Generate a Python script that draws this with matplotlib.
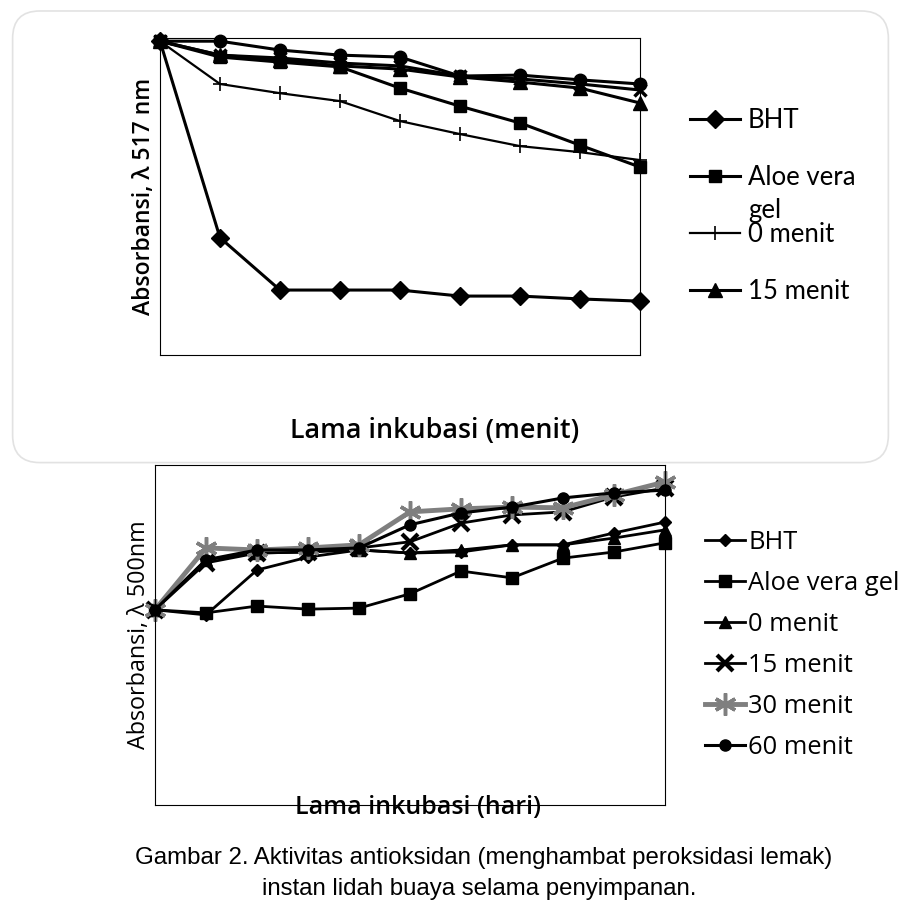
import matplotlib.pyplot as plt
from matplotlib.patches import FancyBboxPatch

# top chart: absorbance at 517 nm vs incubation time (minutes), no tick labels in source
top_x = [0, 1, 2, 3, 4, 5, 6, 7, 8]
top_bht = [0.99, 0.37, 0.205, 0.205, 0.205, 0.186, 0.186, 0.177, 0.170]
top_aloe = [0.99, 0.94, 0.924, 0.909, 0.842, 0.785, 0.732, 0.662, 0.593]
top_m0 = [0.99, 0.855, 0.826, 0.801, 0.738, 0.697, 0.659, 0.640, 0.615]
top_m15 = [0.99, 0.946, 0.931, 0.912, 0.902, 0.877, 0.861, 0.842, 0.795]
top_m30 = [0.99, 0.946, 0.937, 0.921, 0.912, 0.880, 0.871, 0.855, 0.836]
top_m60 = [0.99, 0.99, 0.962, 0.946, 0.940, 0.880, 0.883, 0.868, 0.855]

# bottom chart: absorbance at 500 nm vs incubation time (days)
bot_x = [0, 1, 2, 3, 4, 5, 6, 7, 8, 9, 10]
bot_bht = [0.574, 0.559, 0.691, 0.729, 0.750, 0.741, 0.744, 0.765, 0.765, 0.800, 0.832]
bot_aloe = [0.574, 0.565, 0.585, 0.576, 0.579, 0.621, 0.688, 0.668, 0.726, 0.744, 0.771]
bot_m0 = [0.574, 0.721, 0.741, 0.744, 0.750, 0.741, 0.750, 0.765, 0.765, 0.785, 0.809]
bot_m15 = [0.574, 0.712, 0.741, 0.744, 0.756, 0.774, 0.829, 0.853, 0.862, 0.906, 0.932]
bot_m30 = [0.574, 0.756, 0.750, 0.756, 0.765, 0.862, 0.871, 0.876, 0.874, 0.912, 0.950]
bot_m60 = [0.574, 0.721, 0.750, 0.750, 0.756, 0.824, 0.859, 0.876, 0.903, 0.918, 0.926]

fig = plt.figure(figsize=(9.01, 9.16), dpi=100)

# rounded frame around the top chart
frame = FancyBboxPatch((0.014, 0.495), 0.972, 0.493, boxstyle="round,pad=0,rounding_size=0.03",
                       transform=fig.transFigure, facecolor='none', edgecolor='#e2e2e2', lw=1.2)
fig.patches.append(frame)

# ---- top chart ----
ax1 = fig.add_axes([0.1776, 0.6124, 0.5327, 0.3461])
l1, = ax1.plot(top_x, top_bht, color='black', lw=2.2, marker='D', ms=9)
l2, = ax1.plot(top_x, top_aloe, color='black', lw=2.2, marker='s', ms=9)
l3, = ax1.plot(top_x, top_m0, color='black', lw=1.6, marker='+', ms=10, mew=1.2)
ax1.plot(top_x, top_m30, color='black', lw=2.2, marker='x', ms=9, mew=2.5)
l4, = ax1.plot(top_x, top_m15, color='black', lw=2.2, marker='^', ms=10)
ax1.plot(top_x, top_m60, color='black', lw=2.2, marker='o', ms=9)
ax1.set_xlim(0, 8)
ax1.set_ylim(0, 1.0)
ax1.set_xticks([])
ax1.set_yticks([])
for l in ax1.lines:
    l.set_clip_on(False)
ax1.set_ylabel("Absorbansi, λ 517 nm", family='Open Sans', fontweight='semibold',
               fontsize=16.5, labelpad=3)
fig.text(0.482, 0.530, "Lama inkubasi (menit)", family='Open Sans', fontweight='semibold',
         fontsize=19.4, ha='center', va='center')
# legend in the source is cut off after four entries; "gel" wraps below "Aloe vera"
ax1.legend([l1, l2, l3, l4], ["BHT", "Aloe vera", "0 menit", "15 menit"],
           loc='upper left', bbox_to_anchor=(0.7658, 0.8825), bbox_transform=fig.transFigure,
           frameon=False, handlelength=1.95, handletextpad=0.3, labelspacing=1.25,
           prop={'family': 'Lato', 'size': 18.5}, borderaxespad=0, borderpad=0)
fig.text(0.830, 0.770, "gel", family='Lato', fontsize=18.5, ha='left', va='center')

# ---- bottom chart ----
ax2 = fig.add_axes([0.172, 0.1212, 0.566, 0.3712])
ax2.plot(bot_x, bot_bht, color='black', lw=2, marker='D', ms=6, label="BHT")
ax2.plot(bot_x, bot_aloe, color='black', lw=2, marker='s', ms=9, label="Aloe vera gel")
ax2.plot(bot_x, bot_m0, color='black', lw=2, marker='^', ms=8, label="0 menit")
ax2.plot(bot_x, bot_m15, color='black', lw=2, marker='x', ms=11, mew=3, label="15 menit")
ax2.plot(bot_x, bot_m30, color='#7f7f7f', lw=3.5, marker=(6, 2, 0), ms=16, mew=2.5, label="30 menit")
ax2.plot(bot_x, bot_m60, color='black', lw=2.2, marker='o', ms=8, label="60 menit")
ax2.set_xlim(0, 10)
ax2.set_ylim(0, 1.0)
ax2.set_xticks([])
ax2.set_yticks([])
for l in ax2.lines:
    l.set_clip_on(False)
ax2.set_ylabel("Absorbansi, λ 500nm", family='Open Sans', fontsize=16.8, labelpad=3)
fig.text(0.464, 0.118, "Lama inkubasi (hari)", family='Open Sans', fontweight='semibold',
         fontsize=18, ha='center', va='center')
ax2.legend(loc='upper left', bbox_to_anchor=(0.7825, 0.4215), bbox_transform=fig.transFigure,
           frameon=False, handlelength=1.57, handletextpad=0.12, labelspacing=0.63,
           prop={'family': 'Open Sans', 'size': 18.4}, borderaxespad=0, borderpad=0)

fig.text(0.537, 0.063, "Gambar 2. Aktivitas antioksidan (menghambat peroksidasi lemak)",
         family='Liberation Sans', fontsize=17.3, ha='center', va='center')
fig.text(0.532, 0.030, "instan lidah buaya selama penyimpanan.",
         family='Liberation Sans', fontsize=17.3, ha='center', va='center')

fig.savefig("out.png", dpi=100, facecolor='white')
